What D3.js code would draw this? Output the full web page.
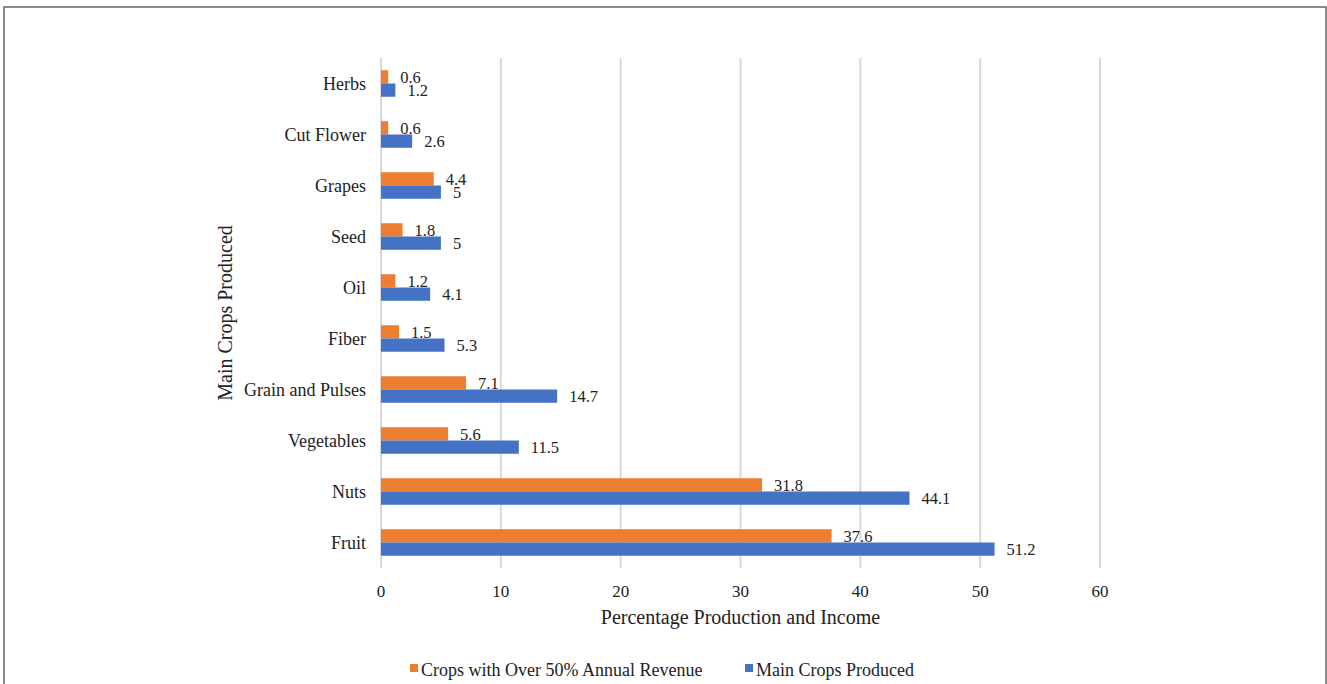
<!DOCTYPE html>
<html>
<head>
<meta charset="utf-8">
<script src="https://cdn.jsdelivr.net/npm/d3@7"></script>
<style>
  body { margin: 0; background: #fff; }
  svg { font-family: "Liberation Serif", "Times New Roman", serif; }
</style>
</head>
<body>
<div id="chart"></div>
<script>
const categories = ["Herbs", "Cut Flower", "Grapes", "Seed", "Oil", "Fiber", "Grain and Pulses", "Vegetables", "Nuts", "Fruit"];
const revenueOver50 = [0.6, 0.6, 4.4, 1.8, 1.2, 1.5, 7.1, 5.6, 31.8, 37.6];
const mainCrops = [1.2, 2.6, 5, 5, 4.1, 5.3, 14.7, 11.5, 44.1, 51.2];
const seriesNames = ["Crops with Over 50% Annual Revenue", "Main Crops Produced"];
const colors = ["#ED7D31", "#4472C4"];
const xTicks = [0, 10, 20, 30, 40, 50, 60];

const width = 1327, height = 684;
const margin = { left: 381, right: 227, top: 58, bottom: 116 };

const svg = d3.select("#chart").append("svg")
  .attr("width", width)
  .attr("height", height);

// outer frame
svg.append("rect")
  .attr("x", 4).attr("y", 7)
  .attr("width", 1322).attr("height", 700)
  .attr("fill", "none")
  .attr("stroke", "#666")
  .attr("stroke-width", 1.5);

const x = d3.scaleLinear()
  .domain([0, 60])
  .range([margin.left, width - margin.right]);

const y = d3.scaleBand()
  .domain(categories)
  .range([margin.top, height - margin.bottom])
  .paddingInner(0.48)
  .paddingOuter(0.24);

const ySub = d3.scaleBand()
  .domain([0, 1])
  .range([0, y.bandwidth()]);

// gridlines
svg.append("g")
  .selectAll("line")
  .data(xTicks)
  .join("line")
  .attr("x1", d => x(d)).attr("x2", d => x(d))
  .attr("y1", margin.top).attr("y2", height - margin.bottom)
  .attr("stroke", "#d9d9d9")
  .attr("stroke-width", 2);

// tick labels
svg.append("g")
  .selectAll("text")
  .data(xTicks)
  .join("text")
  .attr("x", d => x(d))
  .attr("y", 597)
  .attr("text-anchor", "middle")
  .style("font-size", "17px")
  .attr("fill", "#222")
  .text(d => d);

// category labels
svg.append("g")
  .selectAll("text")
  .data(categories)
  .join("text")
  .attr("x", margin.left - 15)
  .attr("y", d => y(d) + y.bandwidth() / 2 + 6)
  .attr("text-anchor", "end")
  .style("font-size", "18px")
  .attr("fill", "#222")
  .text(d => d);

const series = [revenueOver50, mainCrops];

series.forEach((vals, s) => {
  const g = svg.append("g");
  g.selectAll("rect")
    .data(vals)
    .join("rect")
    .attr("x", x(0))
    .attr("y", (d, i) => y(categories[i]) + ySub(s))
    .attr("width", d => x(d) - x(0))
    .attr("height", ySub.bandwidth())
    .attr("fill", colors[s]);

  g.selectAll("text")
    .data(vals)
    .join("text")
    .attr("x", d => x(d) + 12)
    .attr("y", (d, i) => y(categories[i]) + ySub(s) + ySub.bandwidth() - 1)
    .style("font-size", "16.5px")
    .attr("fill", "#222")
    .text(d => d);
});

// axis titles
svg.append("text")
  .attr("x", (x(0) + x(60)) / 2)
  .attr("y", 624)
  .attr("text-anchor", "middle")
  .style("font-size", "20px")
  .attr("fill", "#222")
  .text("Percentage Production and Income");

svg.append("text")
  .attr("transform", `translate(232,${(margin.top + height - margin.bottom) / 2}) rotate(-90)`)
  .attr("text-anchor", "middle")
  .style("font-size", "20px")
  .attr("fill", "#222")
  .text("Main Crops Produced");

// legend
const legendX = [410, 745];
const legend = svg.append("g")
  .selectAll("g")
  .data(seriesNames)
  .join("g")
  .attr("transform", (d, i) => `translate(${legendX[i]},670)`);

legend.append("rect")
  .attr("x", 0).attr("y", -6)
  .attr("width", 8).attr("height", 8)
  .attr("fill", (d, i) => colors[i]);

legend.append("text")
  .attr("x", 11).attr("y", 6)
  .style("font-size", "18px")
  .attr("fill", "#222")
  .text(d => d);
</script>
</body>
</html>
